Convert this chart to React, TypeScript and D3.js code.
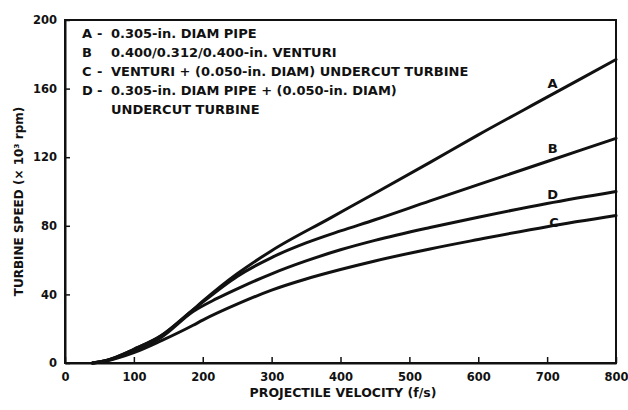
import React, { useEffect, useRef } from "react";
import * as d3 from "d3";

// projectile velocity (f/s) vs turbine speed (x 10^3 rpm)
const velA = [40, 60, 100, 140, 180, 200, 250, 300, 385, 450, 530, 600, 700, 800];
const speedA = [0, 1.5, 8, 16, 29, 36, 52, 65.5, 84.5, 99, 117, 133, 155, 177];

const velB = [40, 60, 100, 140, 180, 200, 250, 300, 350, 400, 450, 530, 600, 700, 800];
const speedB = [0, 1.5, 8, 16, 29, 35.5, 50.5, 61.5, 70, 77, 83.5, 94.5, 104, 117.5, 131];

const velC = [40, 60, 100, 140, 186, 200, 254, 300, 350, 400, 450, 530, 600, 700, 800];
const speedC = [0, 1.2, 6, 13, 22, 25, 35, 42.5, 49, 54.5, 59.5, 66.5, 72, 79.5, 86];

const velD = [40, 60, 100, 140, 186, 220, 254, 300, 350, 400, 450, 530, 600, 700, 800];
const speedD = [0, 1.4, 7, 15, 30, 37.5, 44, 52, 59.5, 66, 71.5, 79, 85, 93, 100];

const curveNames = ["A", "B", "D", "C"];
const labelVel = [708, 708, 708, 710];
const labelSpeed = [163, 125, 98, 82];

const xTicks = [0, 100, 200, 300, 400, 500, 600, 700, 800];
const yTicks = [0, 40, 80, 120, 160, 200];

const legendLines = [
  ["A", "-", "0.305-in. DIAM PIPE"],
  ["B", "", "0.400/0.312/0.400-in. VENTURI"],
  ["C", "-", "VENTURI + (0.050-in. DIAM) UNDERCUT TURBINE"],
  ["D", "-", "0.305-in. DIAM PIPE + (0.050-in. DIAM)"],
  ["", "", "UNDERCUT TURBINE"],
];

const App = () => {
  const svgRef = useRef<SVGSVGElement>(null);

  useEffect(() => {
    const svg = d3.select(svgRef.current);
    svg.selectAll("*").remove();

    const width = 628;
    const height = 410;
    const margin = { top: 20, right: 12, bottom: 47, left: 65 };
    const font = "'DejaVu Sans', Arial, sans-serif";

    const x = d3
      .scaleLinear()
      .domain([0, 800])
      .range([margin.left, width - margin.right]);
    const y = d3
      .scaleLinear()
      .domain([0, 200])
      .range([height - margin.bottom, margin.top]);

    // frame
    svg
      .append("rect")
      .attr("x", x(0))
      .attr("y", y(200))
      .attr("width", x(800) - x(0))
      .attr("height", y(0) - y(200))
      .attr("fill", "none")
      .attr("stroke", "#111")
      .attr("stroke-width", 2);

    // axes with inward ticks
    const xAxis = svg
      .append("g")
      .attr("transform", `translate(0,${y(0)})`)
      .call(d3.axisBottom(x).tickValues(xTicks).tickSizeInner(-6).tickSizeOuter(0).tickPadding(10));
    const yAxis = svg
      .append("g")
      .attr("transform", `translate(${x(0)},0)`)
      .call(d3.axisLeft(y).tickValues(yTicks).tickSizeInner(-5).tickSizeOuter(0).tickPadding(8));

    [xAxis, yAxis].forEach((g) => {
      g.select(".domain").attr("stroke", "#111").attr("stroke-width", 2);
      g.selectAll(".tick line").attr("stroke", "#111").attr("stroke-width", 1.5);
      g.selectAll(".tick text")
        .attr("fill", "#111")
        .style("font-family", font)
        .style("font-weight", "bold")
        .style("font-size", "11.5px");
    });

    // curves
    const series = [
      [velA, speedA],
      [velB, speedB],
      [velD, speedD],
      [velC, speedC],
    ];
    const line = d3
      .line<[number, number]>()
      .x((d) => x(d[0]))
      .y((d) => y(d[1]))
      .curve(d3.curveMonotoneX);

    series.forEach(([vx, vy]) => {
      const pts = vx.map((v, i) => [v, vy[i]] as [number, number]);
      svg
        .append("path")
        .attr("d", line(pts))
        .attr("fill", "none")
        .attr("stroke", "#111")
        .attr("stroke-width", 3)
        .attr("stroke-linecap", "round");
    });

    // curve labels
    curveNames.forEach((n, i) => {
      svg
        .append("text")
        .attr("x", x(labelVel[i]))
        .attr("y", y(labelSpeed[i]))
        .attr("dy", "0.35em")
        .attr("text-anchor", "middle")
        .style("font-family", font)
        .style("font-weight", "bold")
        .style("font-size", "13px")
        .attr("fill", "#111")
        .text(n);
    });

    // legend
    legendLines.forEach((row, i) => {
      const yy = 33 + i * 19;
      const g = svg
        .append("g")
        .style("font-family", font)
        .style("font-weight", "bold")
        .style("font-size", "13px")
        .attr("fill", "#111");
      g.append("text").attr("x", 82).attr("y", yy).attr("dy", "0.35em").text(row[0]);
      g.append("text").attr("x", 97).attr("y", yy).attr("dy", "0.35em").text(row[1]);
      g.append("text").attr("x", 111).attr("y", yy).attr("dy", "0.35em").text(row[2]);
    });

    // axis titles
    svg
      .append("text")
      .attr("x", 343)
      .attr("y", 397)
      .attr("text-anchor", "middle")
      .style("font-family", font)
      .style("font-weight", "bold")
      .style("font-size", "12.5px")
      .attr("fill", "#111")
      .text("PROJECTILE VELOCITY (f/s)");

    svg
      .append("text")
      .attr("transform", `translate(23,${(y(0) + y(200)) / 2 + 10}) rotate(-90)`)
      .attr("text-anchor", "middle")
      .style("font-family", font)
      .style("font-weight", "bold")
      .style("font-size", "12px")
      .attr("fill", "#111")
      .text("TURBINE SPEED (× 10³ rpm)");
  }, []);

  return (
    <svg
      ref={svgRef}
      width="628"
      height="410"
      style={{ position: "absolute", left: 0, top: 0, background: "#fff" }}
    ></svg>
  );
};

export default App;
